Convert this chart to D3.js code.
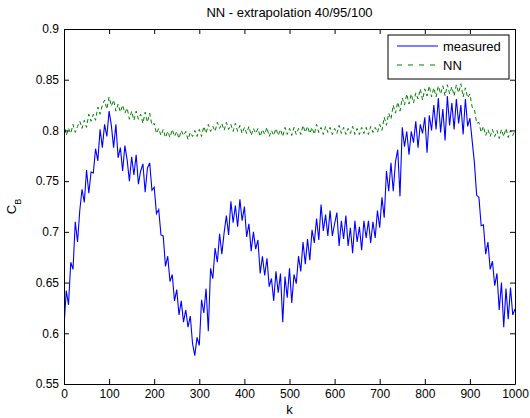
<!DOCTYPE html>
<html>
<head>
<meta charset="utf-8">
<script src="https://unpkg.com/d3@7/dist/d3.min.js"></script>
<style>
  body { margin: 0; background: #fff; }
  text { font-family: "Liberation Sans", Arial, Helvetica, sans-serif; }
</style>
</head>
<body>
<div id="chart"></div>
<script>
// sample index step (every 5th k)
var kStep = 5;

// measured C_B, k = 0,5,...,1000
var measured = [
  .606,.642,.628,.670,.663,.710,.690,.721,.742,.729,.761,.738,.759,.758,.782,.770,.801,.783,.806,.794,
  .819,.805,.783,.806,.773,.783,.760,.785,.771,.750,.774,.756,.776,.747,.760,.767,.739,.763,.768,.741,
  .744,.718,.722,.697,.696,.666,.676,.651,.658,.632,.643,.618,.632,.611,.623,.606,.617,.590,.578,.596,
  .588,.633,.620,.644,.602,.664,.654,.684,.670,.698,.678,.699,.716,.697,.730,.709,.726,.705,.732,.711,
  .725,.695,.708,.681,.700,.683,.692,.659,.676,.657,.674,.646,.654,.632,.661,.640,.659,.611,.656,.635,
  .664,.630,.658,.649,.676,.661,.690,.668,.693,.672,.702,.689,.713,.692,.727,.701,.717,.696,.721,.696,
  .708,.719,.686,.711,.693,.716,.686,.704,.679,.711,.690,.705,.682,.711,.694,.711,.689,.710,.694,.721,
  .704,.734,.714,.760,.740,.768,.740,.769,.781,.735,.803,.784,.799,.776,.799,.788,.809,.783,.806,.797,
  .813,.778,.815,.800,.825,.801,.832,.798,.821,.790,.834,.805,.827,.801,.831,.807,.825,.796,.831,.804,
  .812,.790,.768,.736,.734,.706,.707,.678,.690,.663,.671,.647,.659,.623,.650,.606,.644,.614,.645,.618,
  .624
];

// NN prediction, k = 0,5,...,1000
var nn = [
  .808,.795,.802,.797,.806,.798,.804,.809,.802,.810,.803,.816,.809,.816,.810,.823,.816,.825,.830,.821,
  .833,.824,.830,.819,.826,.818,.825,.817,.822,.811,.819,.810,.819,.811,.816,.807,.818,.808,.817,.805,
  .807,.797,.802,.795,.801,.793,.799,.793,.801,.794,.799,.792,.800,.795,.799,.791,.798,.794,.800,.794,
  .801,.794,.804,.797,.806,.799,.804,.799,.808,.802,.807,.800,.808,.801,.806,.799,.807,.799,.805,.797,
  .803,.797,.804,.795,.802,.797,.802,.794,.801,.796,.803,.794,.800,.795,.802,.795,.801,.794,.803,.796,
  .802,.795,.803,.796,.802,.796,.805,.798,.804,.797,.803,.796,.806,.798,.803,.796,.804,.798,.803,.796,
  .802,.797,.805,.797,.803,.796,.802,.797,.804,.796,.802,.796,.803,.797,.803,.796,.804,.798,.803,.798,
  .806,.800,.813,.805,.817,.811,.825,.817,.828,.819,.832,.825,.836,.826,.836,.827,.837,.831,.841,.830,
  .841,.834,.844,.833,.842,.833,.844,.836,.844,.834,.845,.836,.843,.834,.845,.837,.846,.833,.842,.832,
  .836,.823,.821,.807,.808,.798,.804,.795,.801,.794,.801,.794,.800,.792,.801,.794,.802,.793,.800,.795,
  .800
];

var xTicks = [0,100,200,300,400,500,600,700,800,900,1000];
var yTicks = [0.55,0.6,0.65,0.7,0.75,0.8,0.85,0.9];
var seriesNames = ["measured", "NN"];

var width = 530, height = 418;
var margin = {top: 29, right: 15, bottom: 34, left: 64};
var w = width - margin.left - margin.right;
var h = height - margin.top - margin.bottom;

var svg = d3.select("#chart").append("svg")
  .attr("width", width).attr("height", height);

var g = svg.append("g").attr("transform", "translate(" + margin.left + "," + margin.top + ")");

var x = d3.scaleLinear().domain([0, 1000]).range([0, w]);
var y = d3.scaleLinear().domain([0.55, 0.9]).range([h, 0]);

g.append("clipPath").attr("id", "clip")
  .append("rect").attr("width", w).attr("height", h);

var line = d3.line()
  .x(function(d, i) { return x(i * kStep); })
  .y(function(d) { return y(d); });

g.append("path").datum(measured)
  .attr("clip-path", "url(#clip)")
  .attr("fill", "none").attr("stroke", "#0000ff").attr("stroke-width", 1.1)
  .attr("d", line);

g.append("path").datum(nn)
  .attr("clip-path", "url(#clip)")
  .attr("fill", "none").attr("stroke", "#008000").attr("stroke-width", 1)
  .attr("stroke-dasharray", "4,3")
  .attr("d", line);

// axes, MATLAB style: ticks inside on all four sides
function styleAxis(sel) {
  sel.selectAll("path").attr("stroke", "#000");
  sel.selectAll("line").attr("stroke", "#000");
  sel.selectAll("text").attr("fill", "#000").style("font-size", "12px");
}

g.append("g").attr("transform", "translate(0," + h + ")")
  .call(d3.axisBottom(x).tickValues(xTicks).tickSizeInner(-5).tickSizeOuter(0).tickPadding(5)
    .tickFormat(d3.format("d")))
  .call(styleAxis);
g.append("g")
  .call(d3.axisTop(x).tickValues(xTicks).tickSizeInner(-5).tickSizeOuter(0).tickFormat(""))
  .call(styleAxis);
g.append("g")
  .call(d3.axisLeft(y).tickValues(yTicks).tickSizeInner(-5).tickSizeOuter(0).tickPadding(5)
    .tickFormat(function(d) { return String(+d.toFixed(2)); }))
  .call(styleAxis);
g.append("g").attr("transform", "translate(" + w + ",0)")
  .call(d3.axisRight(y).tickValues(yTicks).tickSizeInner(-5).tickSizeOuter(0).tickFormat(""))
  .call(styleAxis);

// title and labels
svg.append("text").attr("x", margin.left + w / 2).attr("y", 17)
  .attr("text-anchor", "middle").style("font-size", "13px")
  .text("NN - extrapolation 40/95/100");

svg.append("text").attr("x", margin.left + w / 2).attr("y", 414)
  .attr("text-anchor", "middle").style("font-size", "13px")
  .text("k");

var yl = svg.append("text")
  .attr("transform", "translate(16," + (margin.top + h / 2) + ") rotate(-90)")
  .attr("text-anchor", "middle").style("font-size", "13px");
yl.append("tspan").text("C");
yl.append("tspan").attr("baseline-shift", "sub").style("font-size", "9px").text("B");

// legend
var lg = svg.append("g").attr("transform", "translate(388,35)");
lg.append("rect").attr("width", 121).attr("height", 44)
  .attr("fill", "#fff").attr("stroke", "#000").attr("stroke-width", 1);
var colors = ["#0000ff", "#008000"];
var dashes = [null, "5,6"];
seriesNames.forEach(function(name, i) {
  var yy = 11 + i * 19;
  lg.append("line").attr("x1", 9).attr("x2", 50).attr("y1", yy).attr("y2", yy)
    .attr("stroke", colors[i]).attr("stroke-width", 1)
    .attr("stroke-dasharray", dashes[i]);
  lg.append("text").attr("x", 55).attr("y", yy + 5).style("font-size", "13px").text(name);
});
</script>
</body>
</html>
